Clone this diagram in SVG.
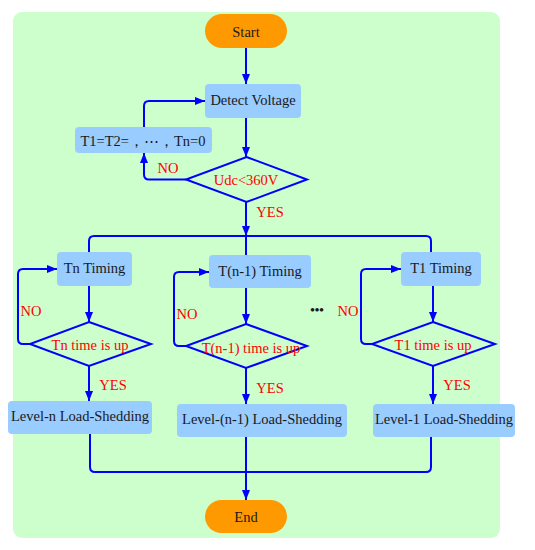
<svg xmlns="http://www.w3.org/2000/svg" width="535" height="550" viewBox="0 0 535 550">
<style>
.bg{fill:#CCFFCC}
.term{fill:#FF9900}
.box{fill:#99CCFF}
.dia{fill:none;stroke:#0000FF;stroke-width:2}
.con{fill:none;stroke:#0000FF;stroke-width:2}
.arr{marker-end:url(#ah)}
text{font-family:"Liberation Serif","Times New Roman",serif;font-size:14.5px;text-anchor:middle;dominant-baseline:central}
.t{fill:#1a1a1a}
.r{fill:#FF0000}
</style>
<defs>
<marker id="ah" markerUnits="userSpaceOnUse" viewBox="0 0 10 8" markerWidth="10" markerHeight="8" refX="10" refY="4" orient="auto">
<path d="M0,0 L10,4 L0,8 z" fill="#0000FF"/>
</marker>
</defs>
<rect class="bg" x="13" y="12" width="487" height="526" rx="9"/>
<g id="connectors">
<path class="con arr" d="M246,48 V84"/>
<path class="con arr" d="M246,118 V157"/>
<path class="con arr" d="M186,179.5 H149 Q144,179.5 144,174.5 V153"/>
<path class="con arr" d="M144,127 V106 Q144,101 149,101 H205"/>
<path class="con arr" d="M246,202 V236"/>
<path class="con" d="M89,252 V241 Q89,236 94,236 H426 Q431,236 431,241 V252"/>
<path class="con" d="M246,236 V255"/>
<path class="con arr" d="M89,286 V322"/>
<path class="con arr" d="M30,344 H23 Q18,344 18,339 V274 Q18,269 23,269 H57"/>
<path class="con arr" d="M89,366 V401"/>
<path class="con arr" d="M246,288 V324"/>
<path class="con arr" d="M186,346 H179 Q174,346 174,341 V277 Q174,272 179,272 H209"/>
<path class="con arr" d="M246,368 V404"/>
<path class="con arr" d="M433,286 V322"/>
<path class="con arr" d="M372,344 H366 Q361,344 361,339 V274 Q361,269 366,269 H401"/>
<path class="con arr" d="M433,366 V404"/>
<path class="con" d="M90,434 V467 Q90,472 95,472 H426 Q431,472 431,467 V437"/>
<path class="con arr" d="M246,437 V500"/>
<text class="r" x="168" y="168">NO</text>
<text class="r" x="270" y="212">YES</text>
<text class="r" x="31" y="311">NO</text>
<text class="r" x="113" y="385">YES</text>
<text class="r" x="187" y="314">NO</text>
<text class="r" x="270" y="388">YES</text>
<text class="r" x="348" y="311">NO</text>
<text class="r" x="457" y="385">YES</text>
<text class="t" x="317" y="309" style="font-size:13px;font-weight:bold">•••</text>
</g>
<g id="start"><rect class="term" x="205" y="14" width="82" height="34" rx="17"/><text class="t" x="246" y="32">Start</text></g>
<g id="detect"><rect class="box" x="205" y="84" width="96" height="34" rx="4"/><text class="t" x="253" y="100">Detect Voltage</text></g>
<g id="reset"><rect class="box" x="75" y="127" width="137" height="26" rx="4"/><text class="t" x="143" y="141">T1=T2=，⋯，Tn=0</text></g>
<g id="udc"><polygon class="dia" points="246.5,157 307,179.5 246.5,202 186,179.5"/><text class="r" x="246" y="180">Udc&lt;360V</text></g>
<g id="tn-timing"><rect class="box" x="57" y="252" width="75" height="34" rx="4"/><text class="t" x="94.5" y="268">Tn Timing</text></g>
<g id="tn1-timing"><rect class="box" x="209" y="255" width="102" height="33" rx="4"/><text class="t" x="260" y="271">T(n-1) Timing</text></g>
<g id="t1-timing"><rect class="box" x="401" y="252" width="80" height="34" rx="4"/><text class="t" x="441" y="268">T1 Timing</text></g>
<g id="tn-up"><polygon class="dia" points="89,322 151,344 89,366 30,344"/><text class="r" x="90" y="345">Tn time is up</text></g>
<g id="tn1-up"><polygon class="dia" points="246,324 307,346 246,368 186,346"/><text class="r" x="251" y="348">T(n-1) time is up</text></g>
<g id="t1-up"><polygon class="dia" points="433,322 495,344 433,366 372,344"/><text class="r" x="433" y="345">T1 time is up</text></g>
<g id="level-n"><rect class="box" x="8" y="401" width="144" height="33" rx="4"/><text class="t" x="80" y="416">Level-n Load-Shedding</text></g>
<g id="level-n1"><rect class="box" x="177" y="404" width="170" height="33" rx="4"/><text class="t" x="262" y="419">Level-(n-1) Load-Shedding</text></g>
<g id="level-1"><rect class="box" x="373" y="404" width="142" height="33" rx="4"/><text class="t" x="444" y="419">Level-1 Load-Shedding</text></g>
<g id="end"><rect class="term" x="205" y="500" width="82" height="33" rx="16.5"/><text class="t" x="246" y="517">End</text></g>
</svg>
